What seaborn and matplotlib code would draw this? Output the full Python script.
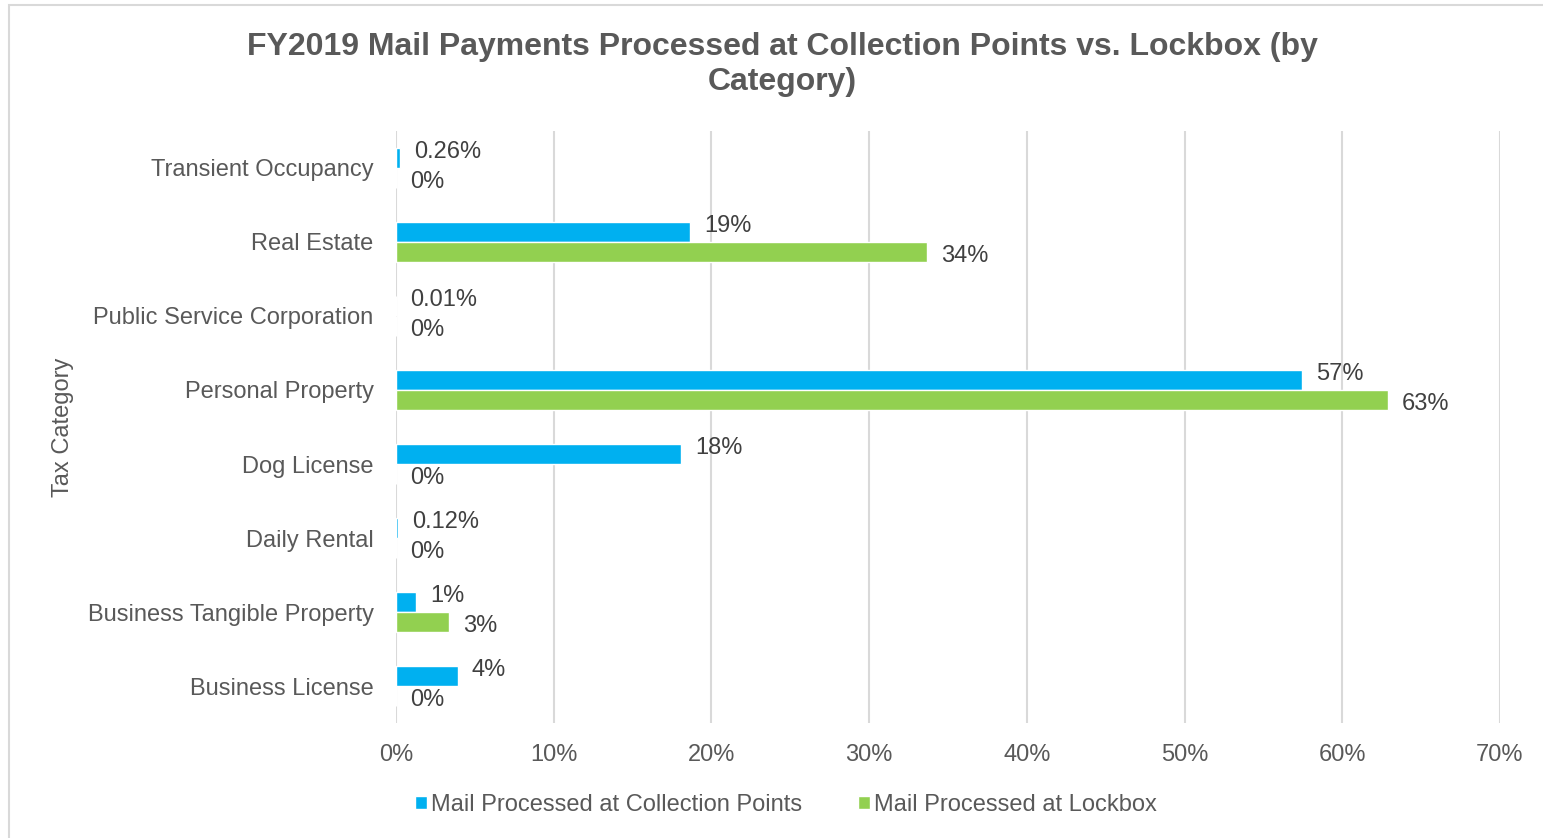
import pandas as pd
import matplotlib.pyplot as plt
import seaborn as sns
from matplotlib.patches import Patch, Rectangle
from matplotlib.ticker import FuncFormatter

# data (percent of mail payments)
categories = ['Transient Occupancy', 'Real Estate', 'Public Service Corporation',
              'Personal Property', 'Dog License', 'Daily Rental',
              'Business Tangible Property', 'Business License']
collection_points = [0.26, 18.64, 0.01, 57.45, 18.1, 0.12, 1.27, 3.93]
lockbox = [0, 33.67, 0, 62.9, 0, 0, 3.36, 0]
series = ['Mail Processed at Collection Points', 'Mail Processed at Lockbox']
colors = {series[0]: '#00B0F0', series[1]: '#92D050'}

df = pd.DataFrame({
    'category': categories * 2,
    'value': collection_points + lockbox,
    'series': [series[0]] * len(categories) + [series[1]] * len(categories),
})

sns.set_style('white')
plt.rcParams['font.family'] = ['Liberation Sans', 'DejaVu Sans']

fig = plt.figure(figsize=(15.43, 8.38), dpi=100)
ax = fig.add_axes([0.2566, 0.1372, 0.7155, 0.7065])

sns.barplot(data=df, y='category', x='value', hue='series', orient='h',
            order=categories, hue_order=series, palette=colors,
            width=0.54, ax=ax, legend=False, saturation=1)


def fmt(v):
    if 0 < v < 1:
        return f'{v:.2f}%'
    return f'{v:.0f}%'


# blue labels sit a bit above their bar, green a bit below
for cont, vals, dy in zip(ax.containers, [collection_points, lockbox], [4, -3]):
    anns = ax.bar_label(cont, labels=[fmt(v) for v in vals], padding=10,
                        fontsize=17, color='#404040')
    for a in anns:
        a.xyann = (10, dy)

ax.set_xlim(0, 70)
ax.set_ylim(7.5, -0.5)
ax.set_xticks(range(0, 71, 10))
ax.xaxis.set_major_formatter(FuncFormatter(lambda x, p: f'{x:.0f}%'))
ax.grid(axis='x', color='#d9d9d9', linewidth=1.5)
ax.set_axisbelow(True)
for s in ax.spines.values():
    s.set_visible(False)
ax.tick_params(axis='y', length=0, pad=16, labelsize=17, labelcolor='#595959')
ax.tick_params(axis='x', length=0, pad=15, labelsize=17, labelcolor='#595959')
ax.set_xlabel('')
ax.set_ylabel('Tax Category', fontsize=17, color='#595959')
ax.yaxis.set_label_coords(-0.292, 0.5)

fig.text(0.507, 1 - 32 / 838,
         'FY2019 Mail Payments Processed at Collection Points vs. Lockbox (by\nCategory)',
         ha='center', va='top', fontsize=23, fontweight='bold', color='#595959',
         linespacing=1.2)

handles = [Patch(facecolor=colors[s], label=s) for s in series]
fig.legend(handles=handles, loc='center', bbox_to_anchor=(786 / 1543, 1 - 805 / 838),
           ncol=2, frameon=False, fontsize=17, labelcolor='#595959',
           handlelength=0.5, handleheight=0.5, handletextpad=0.17,
           columnspacing=2.4)

fig.add_artist(Rectangle((9 / 1543, -0.05), 1.2, 1.05 - 5 / 838,
                         transform=fig.transFigure, fill=False,
                         edgecolor='#d9d9d9', linewidth=1.5))

fig.savefig('out.png', dpi=100)
